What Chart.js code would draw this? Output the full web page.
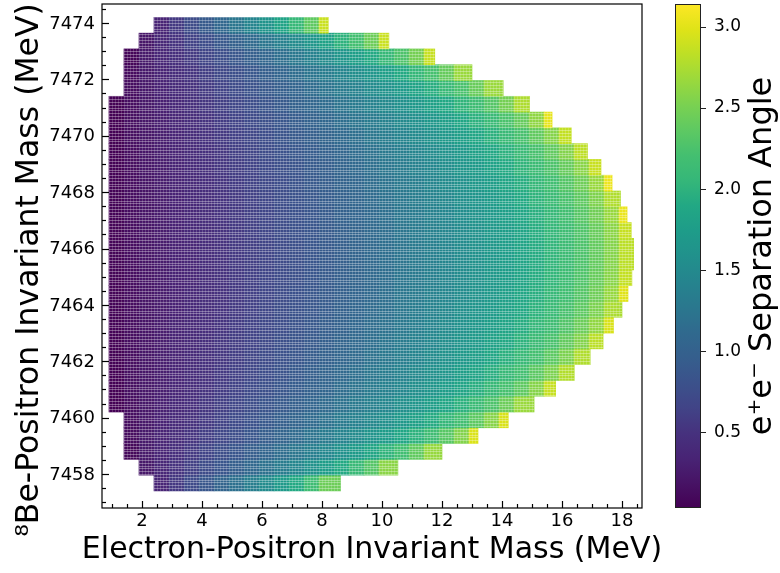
<!DOCTYPE html>
<html>
<head>
<meta charset="utf-8">
<script src="https://cdn.jsdelivr.net/npm/chart.js@4.4.1/dist/chart.umd.min.js"></script>
<style>
  html, body { margin: 0; padding: 0; background: #ffffff; }
  #wrap { width: 780px; height: 573px; }
</style>
</head>
<body>
<div id="wrap"><canvas id="chart" width="780" height="573"></canvas></div>
<script>
// Electron-positron invariant mass (MeV): centres of the grid columns
const massCols = [1.15, 1.65, 2.15, 2.65, 3.15, 3.65, 4.15, 4.65, 5.15, 5.65, 6.15, 6.65,
  7.15, 7.65, 8.15, 8.65, 9.15, 9.65, 10.15, 10.65, 11.15, 11.65, 12.15, 12.65, 13.15,
  13.65, 14.15, 14.65, 15.15, 15.65, 16.15, 16.65, 17.15, 17.65, 18.15];

// 8Be-positron invariant mass (MeV): centres of the grid rows, bottom to top
const massRows = [7457.68, 7458.24, 7458.80, 7459.36, 7459.92, 7460.48, 7461.04, 7461.60,
  7462.16, 7462.72, 7463.28, 7463.84, 7464.40, 7464.96, 7465.52, 7466.08, 7466.64, 7467.20,
  7467.76, 7468.32, 7468.88, 7469.44, 7470.00, 7470.56, 7471.12, 7471.68, 7472.24, 7472.80,
  7473.36, 7473.92];

// index of the first filled column in each row
const rowStart = [3, 2, 1, 1, 1, 0, 0, 0, 0, 0, 0, 0, 0, 0, 0, 0, 0, 0, 0, 0, 0, 0, 0, 0, 0, 1, 1, 1, 2, 3];

// right-hand edge of the allowed region in each row (MeV)
const rowRight = [8.62, 10.53, 12.00, 13.20, 14.21, 15.07, 15.79, 16.41, 16.94, 17.37,
  17.72, 18.00, 18.20, 18.33, 18.39, 18.39, 18.31, 18.17, 17.95, 17.67,
  17.30, 16.85, 16.31, 15.67, 14.92, 14.04, 13.00, 11.76, 10.23, 8.21];

// e+e- separation angle (rad) of each filled cell, row by row
const angleRows = [
  [0.36,0.55,0.72,0.87,1.03,1.19,1.35,1.52,1.71,1.91,2.15,2.45],
  [0.23,0.38,0.51,0.62,0.74,0.85,0.97,1.09,1.21,1.33,1.46,1.60,1.75,1.91,2.09,2.31,2.60],
  [0.09,0.25,0.36,0.46,0.56,0.66,0.75,0.85,0.95,1.05,1.15,1.25,1.36,1.47,1.59,1.72,1.86,2.01,2.18,2.38,2.65],
  [0.13,0.25,0.34,0.43,0.52,0.60,0.69,0.77,0.86,0.95,1.04,1.13,1.22,1.32,1.42,1.52,1.63,1.74,1.87,2.00,2.16,2.33,2.56,2.97],
  [0.14,0.24,0.33,0.41,0.49,0.56,0.64,0.72,0.80,0.88,0.96,1.04,1.12,1.21,1.30,1.39,1.48,1.58,1.69,1.80,1.92,2.05,2.19,2.36,2.58,2.96],
  [0.03,0.14,0.23,0.31,0.39,0.46,0.53,0.61,0.68,0.75,0.83,0.90,0.98,1.05,1.13,1.21,1.30,1.38,1.47,1.56,1.66,1.76,1.87,1.99,2.12,2.26,2.44,2.67],
  [0.03,0.15,0.23,0.30,0.37,0.44,0.51,0.58,0.65,0.72,0.79,0.86,0.93,1.00,1.07,1.15,1.23,1.31,1.39,1.47,1.56,1.65,1.75,1.85,1.96,2.08,2.22,2.37,2.57,2.87],
  [0.03,0.15,0.22,0.29,0.36,0.43,0.49,0.56,0.62,0.69,0.76,0.82,0.89,0.96,1.03,1.10,1.18,1.25,1.33,1.41,1.49,1.57,1.66,1.76,1.85,1.96,2.08,2.20,2.35,2.53,2.78],
  [0.04,0.14,0.22,0.29,0.35,0.41,0.48,0.54,0.60,0.67,0.73,0.80,0.86,0.93,1.00,1.07,1.13,1.21,1.28,1.35,1.43,1.51,1.60,1.68,1.77,1.87,1.98,2.09,2.21,2.36,2.53,2.77],
  [0.04,0.14,0.21,0.28,0.34,0.40,0.47,0.53,0.59,0.65,0.71,0.78,0.84,0.90,0.97,1.04,1.10,1.17,1.24,1.32,1.39,1.47,1.55,1.63,1.71,1.81,1.90,2.00,2.12,2.24,2.39,2.56,2.82],
  [0.05,0.14,0.21,0.28,0.34,0.40,0.46,0.52,0.58,0.64,0.70,0.76,0.82,0.88,0.95,1.01,1.08,1.15,1.21,1.28,1.36,1.43,1.51,1.59,1.67,1.76,1.85,1.94,2.05,2.16,2.29,2.44,2.63,2.96],
  [0.05,0.14,0.21,0.27,0.33,0.39,0.45,0.51,0.57,0.63,0.69,0.75,0.81,0.87,0.93,1.00,1.06,1.13,1.19,1.26,1.33,1.40,1.48,1.56,1.64,1.72,1.81,1.90,2.00,2.11,2.23,2.36,2.53,2.75],
  [0.06,0.14,0.21,0.27,0.33,0.39,0.45,0.50,0.56,0.62,0.68,0.74,0.80,0.86,0.92,0.98,1.05,1.11,1.18,1.25,1.31,1.39,1.46,1.53,1.61,1.69,1.78,1.87,1.96,2.07,2.18,2.31,2.46,2.65,2.99],
  [0.06,0.14,0.21,0.27,0.33,0.38,0.44,0.50,0.56,0.62,0.68,0.73,0.79,0.85,0.92,0.98,1.04,1.10,1.17,1.24,1.30,1.37,1.45,1.52,1.60,1.68,1.76,1.85,1.94,2.04,2.15,2.28,2.42,2.59,2.86],
  [0.06,0.14,0.21,0.27,0.33,0.38,0.44,0.50,0.56,0.61,0.67,0.73,0.79,0.85,0.91,0.97,1.04,1.10,1.16,1.23,1.30,1.37,1.44,1.51,1.59,1.67,1.75,1.84,1.93,2.03,2.14,2.26,2.40,2.57,2.82],
  [0.06,0.14,0.21,0.27,0.33,0.38,0.44,0.50,0.56,0.61,0.67,0.73,0.79,0.85,0.91,0.97,1.04,1.10,1.16,1.23,1.30,1.37,1.44,1.51,1.59,1.67,1.75,1.84,1.93,2.03,2.14,2.26,2.40,2.57,2.82],
  [0.06,0.14,0.21,0.27,0.33,0.39,0.44,0.50,0.56,0.62,0.68,0.74,0.80,0.85,0.92,0.98,1.04,1.10,1.17,1.24,1.31,1.38,1.45,1.52,1.60,1.68,1.76,1.85,1.95,2.05,2.16,2.28,2.42,2.60,2.87],
  [0.05,0.14,0.21,0.27,0.33,0.39,0.45,0.51,0.56,0.62,0.68,0.74,0.80,0.86,0.92,0.99,1.05,1.11,1.18,1.25,1.32,1.39,1.46,1.54,1.62,1.70,1.78,1.87,1.97,2.07,2.19,2.32,2.47,2.66,3.05],
  [0.05,0.14,0.21,0.27,0.33,0.39,0.45,0.51,0.57,0.63,0.69,0.75,0.81,0.87,0.94,1.00,1.06,1.13,1.20,1.27,1.34,1.41,1.48,1.56,1.64,1.72,1.81,1.91,2.01,2.12,2.24,2.37,2.54,2.77],
  [0.05,0.14,0.21,0.28,0.34,0.40,0.46,0.52,0.58,0.64,0.70,0.76,0.82,0.89,0.95,1.02,1.08,1.15,1.22,1.29,1.36,1.44,1.51,1.59,1.68,1.76,1.86,1.95,2.06,2.18,2.31,2.46,2.66,3.06],
  [0.04,0.14,0.22,0.28,0.34,0.41,0.47,0.53,0.59,0.65,0.72,0.78,0.84,0.91,0.97,1.04,1.11,1.18,1.25,1.32,1.40,1.47,1.55,1.64,1.72,1.82,1.91,2.02,2.13,2.26,2.41,2.59,2.88],
  [0.03,0.14,0.22,0.29,0.35,0.42,0.48,0.54,0.61,0.67,0.74,0.80,0.87,0.93,1.00,1.07,1.14,1.21,1.29,1.36,1.44,1.52,1.61,1.69,1.79,1.89,1.99,2.11,2.23,2.38,2.56,2.83],
  [0.02,0.15,0.22,0.29,0.36,0.43,0.50,0.56,0.63,0.69,0.76,0.83,0.90,0.97,1.04,1.11,1.18,1.26,1.34,1.42,1.50,1.59,1.68,1.77,1.87,1.98,2.10,2.23,2.38,2.57,2.86],
  [0.02,0.15,0.23,0.30,0.38,0.44,0.51,0.58,0.65,0.72,0.79,0.86,0.94,1.01,1.08,1.16,1.24,1.32,1.40,1.49,1.58,1.67,1.77,1.87,1.99,2.11,2.25,2.41,2.62,3.03],
  [0.02,0.14,0.23,0.31,0.39,0.47,0.54,0.61,0.69,0.76,0.83,0.91,0.99,1.06,1.14,1.23,1.31,1.40,1.49,1.58,1.68,1.79,1.90,2.02,2.15,2.31,2.49,2.76],
  [0.14,0.24,0.33,0.41,0.49,0.57,0.65,0.73,0.81,0.89,0.97,1.05,1.14,1.23,1.32,1.41,1.51,1.61,1.71,1.83,1.95,2.09,2.24,2.42,2.67],
  [0.12,0.25,0.34,0.44,0.52,0.61,0.70,0.78,0.87,0.96,1.05,1.15,1.24,1.34,1.44,1.55,1.66,1.78,1.91,2.05,2.22,2.41,2.67],
  [0.07,0.25,0.37,0.47,0.57,0.67,0.77,0.87,0.97,1.07,1.17,1.28,1.39,1.51,1.64,1.77,1.91,2.07,2.26,2.49,2.87],
  [0.22,0.38,0.51,0.64,0.76,0.88,1.00,1.12,1.25,1.38,1.51,1.66,1.82,2.00,2.20,2.45,2.89],
  [0.34,0.56,0.74,0.91,1.08,1.25,1.43,1.62,1.83,2.07,2.37,2.89]
];

// tick values shown on the axes and on the colour bar
const xTickValues = [2, 4, 6, 8, 10, 12, 14, 16, 18];
const yTickValues = [7458, 7460, 7462, 7464, 7466, 7468, 7470, 7472, 7474];
const barTickValues = [0.5, 1.0, 1.5, 2.0, 2.5, 3.0];

// colour scale limits (rad)
const angleMin = 0.033;
const angleMax = 3.1416;

// axis titles
const xTitle = 'Electron-Positron Invariant Mass (MeV)';
const yTitle = '\u2078Be-Positron Invariant Mass (MeV)';
const barTitle = 'e\u207Ae\u207B Separation Angle';

// ---------- styling ----------
const FONT = "'DejaVu Sans', 'Liberation Sans', sans-serif";
const VIRIDIS = ['#440154', '#471365', '#482475', '#46327e', '#414487', '#3b528b', '#355f8d',
  '#306a8e', '#2a788e', '#25848e', '#21918c', '#1e9c89', '#22a884', '#35b779', '#44bf70',
  '#5ec962', '#7ad151', '#9bd93c', '#bddf26', '#dfe318', '#fde725'];

function hexToRgb(h) {
  return [parseInt(h.slice(1, 3), 16), parseInt(h.slice(3, 5), 16), parseInt(h.slice(5, 7), 16)];
}
const VIRIDIS_RGB = VIRIDIS.map(hexToRgb);

function viridis(v) {
  let t = (v - angleMin) / (angleMax - angleMin);
  t = Math.max(0, Math.min(1, t));
  const pos = t * (VIRIDIS_RGB.length - 1);
  const i = Math.min(Math.floor(pos), VIRIDIS_RGB.length - 2);
  const f = pos - i;
  const a = VIRIDIS_RGB[i], b = VIRIDIS_RGB[i + 1];
  const c = a.map((ch, n) => Math.round(ch + (b[n] - ch) * f));
  return `rgb(${c[0]},${c[1]},${c[2]})`;
}

// one floating bar per grid cell; the last cell of a row stops at the row's edge
const halfW = (massCols[1] - massCols[0]) / 2;
const cells = [];
angleRows.forEach((vals, k) => {
  vals.forEach((v, i) => {
    const j = rowStart[k] + i;
    const x0 = massCols[j] - halfW;
    const x1 = i === vals.length - 1 ? rowRight[k] : massCols[j] + halfW;
    cells.push({ x: [x0, x1], y: massRows[k], v: v });
  });
});

function fixedTicks(values) {
  return scale => { scale.ticks = values.map(v => ({ value: v })); };
}
// pin the box size of a scale and drop the label overhang padding
function pinSize(prop, size) {
  return s => {
    s[prop] = size;
    s.paddingTop = 0; s.paddingBottom = 0; s.paddingLeft = 0; s.paddingRight = 0;
  };
}

// fine sampling lattice seen between the plotted samples
const lattice = {
  id: 'lattice',
  afterDatasetsDraw(chart) {
    const ctx = chart.ctx;
    const xs = chart.scales.x, ys = chart.scales.y;
    const bars = chart.getDatasetMeta(0).data;
    ctx.save();
    ctx.beginPath();
    bars.forEach(b => {
      const p = b.getProps(['x', 'y', 'base', 'height'], true);
      ctx.rect(Math.min(p.x, p.base), p.y - p.height / 2, Math.abs(p.x - p.base), p.height);
    });
    ctx.clip();
    ctx.lineWidth = 1;
    ctx.strokeStyle = 'rgba(255,255,255,0.33)';
    ctx.beginPath();
    for (let v = 7457.4; v <= 7474.3; v += 0.1) {
      const py = Math.round(ys.getPixelForValue(v)) + 0.5;
      ctx.moveTo(xs.left, py); ctx.lineTo(xs.right, py);
    }
    ctx.stroke();
    ctx.strokeStyle = 'rgba(255,255,255,0.18)';
    ctx.beginPath();
    for (let v = 0.9; v <= 18.5; v += 0.1) {
      const px = Math.round(xs.getPixelForValue(v)) + 0.5;
      ctx.moveTo(px, ys.top); ctx.lineTo(px, ys.bottom);
    }
    ctx.stroke();
    ctx.restore();
  }
};

// frame, inward tick marks, titles and the colour bar
const decorations = {
  id: 'decorations',
  afterDraw(chart) {
    const ctx = chart.ctx;
    const area = chart.chartArea;
    const xs = chart.scales.x, ys = chart.scales.y, cb = chart.scales.cb;
    ctx.save();
    ctx.strokeStyle = '#000';
    ctx.lineWidth = 1.2;

    const tickMark = (px, len, horiz) => {
      ctx.beginPath();
      if (horiz) { ctx.moveTo(px, area.bottom); ctx.lineTo(px, area.bottom - len); }
      else { ctx.moveTo(area.left, px); ctx.lineTo(area.left + len, px); }
      ctx.stroke();
    };
    for (let v = Math.ceil(xs.min * 2) / 2; v <= xs.max + 1e-9; v += 0.5) {
      const major = xTickValues.includes(Math.round(v * 2) / 2);
      tickMark(Math.round(xs.getPixelForValue(v)) + 0.5, major ? 7 : 4, true);
    }
    for (let v = Math.ceil(ys.min * 2) / 2; v <= ys.max + 1e-9; v += 0.5) {
      const major = yTickValues.includes(Math.round(v * 2) / 2);
      tickMark(Math.round(ys.getPixelForValue(v)) + 0.5, major ? 7 : 4, false);
    }

    // plot frame
    ctx.strokeRect(area.left, area.top, area.right - area.left, area.bottom - area.top);

    // colour bar
    const bx0 = cb.left + 33, bx1 = cb.left + 59;
    const yTop = cb.getPixelForValue(angleMax), yBot = cb.getPixelForValue(angleMin);
    const grad = ctx.createLinearGradient(0, yBot, 0, yTop);
    VIRIDIS.forEach((c, i) => grad.addColorStop(i / (VIRIDIS.length - 1), c));
    ctx.fillStyle = grad;
    ctx.fillRect(bx0, yTop, bx1 - bx0, yBot - yTop);
    ctx.lineWidth = 1;
    ctx.strokeStyle = '#222';
    ctx.strokeRect(bx0 + 0.5, yTop + 0.5, bx1 - bx0 - 1, yBot - yTop - 1);
    barTickValues.forEach(v => {
      const py = Math.round(cb.getPixelForValue(v)) + 0.5;
      ctx.beginPath(); ctx.moveTo(bx1, py); ctx.lineTo(bx1 + 5, py); ctx.stroke();
    });

    // titles
    ctx.fillStyle = '#000';
    ctx.textAlign = 'center';
    ctx.textBaseline = 'middle';
    ctx.font = `30px ${FONT}`;
    ctx.fillText(xTitle, (area.left + area.right) / 2, 550);

    const drawUp = (text, x, y, size) => {
      ctx.save();
      ctx.font = `${size}px ${FONT}`;
      ctx.translate(x, y);
      ctx.rotate(-Math.PI / 2);
      ctx.fillText(text, 0, 0);
      ctx.restore();
    };
    drawUp(yTitle, 30, 270, 31.5);
    drawUp(barTitle, cb.left + 121, (yTop + yBot) / 2, 32);
    ctx.restore();
  }
};

new Chart(document.getElementById('chart'), {
  type: 'bar',
  data: {
    datasets: [{
      data: cells,
      backgroundColor: c => (c.type === 'data' ? viridis(c.raw.v) : '#000'),
      borderWidth: 0,
      barPercentage: 1,
      categoryPercentage: 1
    }]
  },
  options: {
    indexAxis: 'y',
    responsive: false,
    animation: false,
    events: [],
    devicePixelRatio: 1,
    layout: { padding: { top: 4, left: 0, right: 0, bottom: 0 } },
    plugins: { legend: { display: false }, tooltip: { enabled: false } },
    scales: {
      x: {
        type: 'linear',
        position: 'bottom',
        offset: false,
        min: 0.667,
        max: 18.667,
        afterBuildTicks: fixedTicks(xTickValues),
        afterFit: pinSize('height', 65),
        grid: { display: false, drawTicks: false },
        border: { display: false },
        ticks: { font: { family: FONT, size: 18 }, color: '#000', padding: 3, callback: v => String(v) },
        title: { display: false }
      },
      y: {
        type: 'linear',
        position: 'left',
        offset: false,
        min: 7456.794,
        max: 7474.674,
        afterBuildTicks: fixedTicks(yTickValues),
        afterFit: pinSize('width', 102),
        grid: { display: false, drawTicks: false },
        border: { display: false },
        ticks: { font: { family: FONT, size: 18 }, color: '#000', padding: 7, labelOffset: 1, callback: v => String(v) },
        title: { display: false }
      },
      cb: {
        type: 'linear',
        axis: 'y',
        position: 'right',
        offset: false,
        min: angleMin,
        max: angleMax,
        afterBuildTicks: fixedTicks(barTickValues),
        afterFit: pinSize('width', 138),
        grid: { display: false, drawTicks: false },
        border: { display: false },
        ticks: { font: { family: FONT, size: 17 }, color: '#000', padding: 72, callback: v => v.toFixed(1) }
      }
    }
  },
  plugins: [lattice, decorations]
});
</script>
</body>
</html>
